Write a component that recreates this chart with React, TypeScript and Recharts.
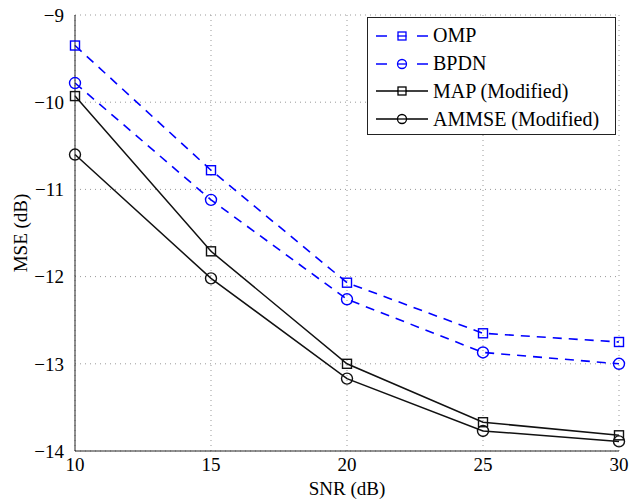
import React from "react";
import { LineChart, Line, XAxis, YAxis, CartesianGrid } from "recharts";

const snr = [10, 15, 20, 25, 30];
const omp = [-9.35, -10.78, -12.07, -12.65, -12.75];
const bpdn = [-9.78, -11.12, -12.26, -12.87, -13.0];
const mapMod = [-9.93, -11.71, -13.0, -13.67, -13.82];
const ammseMod = [-10.6, -12.02, -13.17, -13.77, -13.89];
const xTicks = [10, 15, 20, 25, 30];
const yTicks = [-14, -13, -12, -11, -10, -9];

const data = snr.map((s, i) => ({
  snr: s,
  omp: omp[i],
  bpdn: bpdn[i],
  map: mapMod[i],
  ammse: ammseMod[i],
}));

const FONT = "'Liberation Serif', 'Times New Roman', serif";
const BLUE = "#0000ff";

const fmt = (v: number) => (v < 0 ? "\u2212" + Math.abs(v) : String(v));

const SquareDot = (color: string) => (props: any) => {
  const { cx, cy, index } = props;
  if (cx == null || cy == null) return null;
  return <rect key={index} x={cx - 4.5} y={cy - 4.5} width={9} height={9} fill="none" stroke={color} strokeWidth={1.4} />;
};

const CircleDot = (color: string) => (props: any) => {
  const { cx, cy, index } = props;
  if (cx == null || cy == null) return null;
  return <circle key={index} cx={cx} cy={cy} r={5.5} fill="none" stroke={color} strokeWidth={1.4} />;
};

const legendItems = [
  { name: "OMP", color: BLUE, dash: true, marker: "square" },
  { name: "BPDN", color: BLUE, dash: true, marker: "circle" },
  { name: "MAP (Modified)", color: "#000", dash: false, marker: "square" },
  { name: "AMMSE (Modified)", color: "#000", dash: false, marker: "circle" },
];

const LegendBox = () => (
  <div
    style={{
      position: "absolute",
      left: 367,
      top: 17,
      width: 249,
      height: 118,
      border: "1px solid #222",
      background: "#fff",
      boxSizing: "border-box",
      paddingTop: 4,
      fontFamily: FONT,
      fontSize: 20,
    }}
  >
    {legendItems.map((it) => (
      <div key={it.name} style={{ display: "flex", alignItems: "center", height: 27.8 }}>
        <svg width={65} height={20} style={{ flex: "none" }}>
          {it.dash ? (
            <>
              <line x1={8} y1={10} x2={19} y2={10} stroke={it.color} strokeWidth={1.5} />
              <line x1={49} y1={10} x2={60} y2={10} stroke={it.color} strokeWidth={1.5} />
            </>
          ) : (
            <line x1={8} y1={10} x2={60} y2={10} stroke={it.color} strokeWidth={1.5} />
          )}
          {it.marker === "square" ? (
            <rect x={30} y={6} width={8} height={8} fill="#fff" stroke={it.color} strokeWidth={1.3} />
          ) : (
            <circle cx={34} cy={10} r={4.5} fill="#fff" stroke={it.color} strokeWidth={1.3} />
          )}
          <line x1={29.5} y1={10} x2={38.5} y2={10} stroke={it.color} strokeWidth={1.3} />
        </svg>
        <span style={{ marginLeft: 0, color: "#000" }}>{it.name}</span>
      </div>
    ))}
  </div>
);

const YLabel = () => (
  <text x={27} y={233} transform="rotate(-90, 27, 233)" textAnchor="middle" fill="#000" fontSize={19} fontFamily={FONT}>
    MSE (dB)
  </text>
);

export default function App() {
  return (
    <div style={{ position: "absolute", left: 0, top: 0, width: 629, height: 502, background: "#fff" }}>
      <LineChart width={629} height={502} data={data} margin={{ top: 15, right: 10, left: 0, bottom: 0 }}>
        <CartesianGrid stroke="#999" strokeDasharray="1 4" />
        <XAxis
          dataKey="snr"
          type="number"
          domain={[10, 30]}
          ticks={xTicks}
          interval={0}
          height={51}
          stroke="#222"
          tickLine={false}
          tick={{ fill: "#000", fontSize: 19, fontFamily: FONT }}
          tickMargin={1}
          label={{ value: "SNR (dB)", position: "insideBottom", offset: 7, fill: "#000", fontSize: 19, fontFamily: FONT }}
        />
        <XAxis xAxisId="top" dataKey="snr" type="number" domain={[10, 30]} orientation="top" height={0} tick={false} tickLine={false} stroke="#222" />
        <YAxis
          type="number"
          domain={[-14, -9]}
          ticks={yTicks}
          interval={0}
          width={75}
          stroke="#222"
          tickLine={false}
          tickFormatter={fmt}
          tick={{ fill: "#000", fontSize: 19, fontFamily: FONT }}
          tickMargin={5}
          label={<YLabel />}
        />
        <YAxis yAxisId="right" type="number" domain={[-14, -9]} orientation="right" width={0} tick={false} tickLine={false} stroke="#222" />
        <Line dataKey="omp" name="OMP" stroke={BLUE} strokeWidth={1.6} strokeDasharray="9 7" dot={SquareDot(BLUE)} isAnimationActive={false} />
        <Line dataKey="bpdn" name="BPDN" stroke={BLUE} strokeWidth={1.6} strokeDasharray="9 7" dot={CircleDot(BLUE)} isAnimationActive={false} />
        <Line dataKey="map" name="MAP (Modified)" stroke="#111" strokeWidth={1.5} dot={SquareDot("#111")} isAnimationActive={false} />
        <Line dataKey="ammse" name="AMMSE (Modified)" stroke="#111" strokeWidth={1.5} dot={CircleDot("#111")} isAnimationActive={false} />
      </LineChart>
      <LegendBox />
    </div>
  );
}
